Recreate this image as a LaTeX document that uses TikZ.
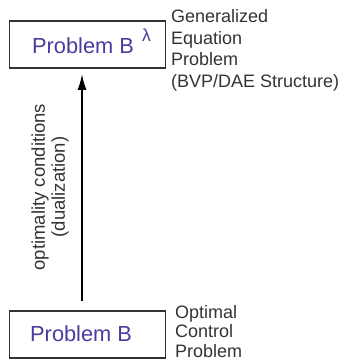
\documentclass[tikz,border=0pt]{standalone}
\usepackage{fontspec}
\setmainfont{Liberation Sans}
\usetikzlibrary{arrows.meta}
\definecolor{probcol}{HTML}{4A3C9C}
\definecolor{labgray}{HTML}{333333}
\tikzset{
  probbox/.style={draw=labgray, line width=1.6pt, minimum width=156pt, minimum height=47pt, inner sep=0pt},
  probtext/.style={text=probcol, font=\fontsize{21.8}{24}\selectfont, inner sep=0pt, anchor=base west},
  sidelab/.style={text=labgray, font=\fontsize{18}{21.5}\selectfont, align=left, inner sep=0pt, anchor=base west},
  rotlab/.style={text=labgray, font=\fontsize{18.5}{20}\selectfont, align=center, inner sep=0pt, rotate=90},
  mainarrow/.style={draw=black, line width=2pt, -{Latex[length=16pt,width=9pt]}}
}
\begin{document}
\begin{tikzpicture}[x=1pt,y=1pt]
\useasboundingbox (0,0) rectangle (346,-362);
% boxes
\node[probbox] (top) at (87.3,-44.5) {};
\node[probbox] (bot) at (87.3,-334.5) {};
% box texts
\node[probtext] (toptext) at (32,-53) {Problem B};
\node[text=probcol, font=\fontsize{17.5}{17.5}\selectfont, inner sep=0pt, anchor=base west] (lam) at (142,-41) {λ};
\node[probtext] (bottext) at (30,-341) {Problem B};
% side labels (base anchor = last line baseline)
\node[sidelab] (toplab) at (171,-87) {Generalized\\Equation\\Problem\\(BVP/DAE Structure)};
\node[sidelab, font=\fontsize{18}{19.5}\selectfont] (botlab) at (175,-357) {Optimal\\Control\\Problem};
% arrow
\draw[mainarrow] ([xshift=-5.3pt,yshift=9pt]bot.north) -- ([xshift=-5.3pt,yshift=-5pt]top.south);
% rotated label
\node[rotlab] (cond) at (50,-187) {optimality conditions\\(dualization)};
\end{tikzpicture}
\end{document}
